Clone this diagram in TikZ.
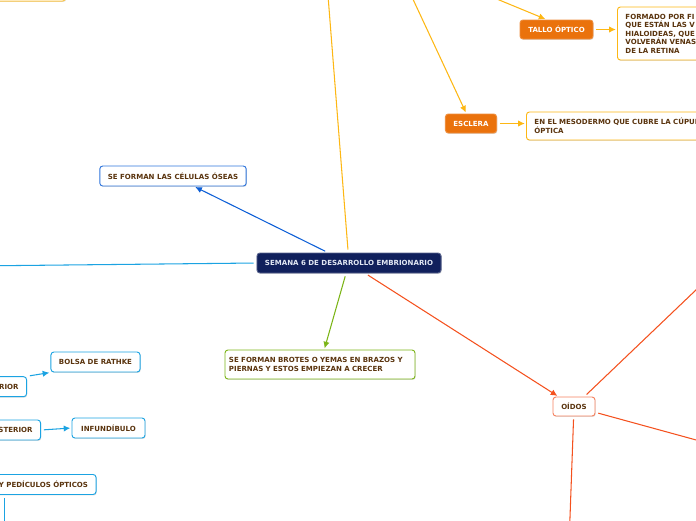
\documentclass[tikz,border=0pt]{standalone}
\usepackage{fontspec}
\setmainfont{DejaVu Sans}
\usepackage{tikz}
\usetikzlibrary{arrows.meta,positioning,shadows,calc}
\definecolor{mmNavy}   {RGB}{ 16, 32, 92}
\definecolor{mmNavyT}  {RGB}{226,232,244}
\definecolor{mmBrown}  {RGB}{ 90, 52, 14}
\definecolor{mmYellow} {RGB}{253,183, 20}
\definecolor{mmOrange} {RGB}{234,114, 12}
\definecolor{mmBlue}   {RGB}{ 12, 94,214}
\definecolor{mmBlueL}  {RGB}{ 27,163,226}
\definecolor{mmGreen}  {RGB}{124,181, 24}
\definecolor{mmRed}    {RGB}{244, 81, 30}
\definecolor{mmRedL}   {RGB}{246,130, 96}

\begin{document}
\begin{tikzpicture}[x=0.03cm,y=-0.03cm,
  every node/.style={font=\fontsize{6}{7.3}\selectfont\bfseries,text=mmBrown},
  >={Latex[length=2mm,width=1.9mm]},
  box/.style ={draw,fill=white,line width=0.8pt,rounded corners=2.5pt,
               minimum height=0.6cm,inner xsep=0.24cm,
               drop shadow={shadow xshift=0.6pt,shadow yshift=-0.8pt,fill=black!25}},
  hub/.style ={box,draw=mmNavy!70,fill=mmNavy,text=mmNavyT,minimum width=5.52cm},
  part/.style={box,draw=mmOrange!80!white,fill=mmOrange,text=white,minimum height=0.57cm},
  note/.style={box,draw=mmYellow,text width=6cm,align=left,anchor=west},
  blu/.style ={box,draw=mmBlue!85!white},
  sky/.style ={box,draw=mmBlueL},
  cut/.style ={box,draw=mmBlueL,text width=4cm,align=right,anchor=east},
  grn/.style ={box,draw=mmGreen,text width=5.46cm,inner xsep=0.12cm,align=left,minimum height=0.87cm},
  ear/.style ={box,draw=mmRedL,minimum width=1.26cm,minimum height=0.57cm},
  ln/.style  ={line width=0.9pt,shorten >=1pt,shorten <=2.5pt}
]
\useasboundingbox (0,0) rectangle (696,520);
\clip (0,0) rectangle (696,520);

\node[box,draw=mmYellow!80!white,anchor=south east,minimum width=4cm,minimum height=0.8cm] (topL) at (66,1.5) {};
\node[hub]  (C)  at (349,263) {SEMANA 6 DE DESARROLLO EMBRIONARIO};
\node[part,minimum width=2.19cm] (TO) at (556.5,29.5) {TALLO ÓPTICO};
\node[note,minimum height=1.59cm] (TOd) at (617,33.5)
  {FORMADO POR FI\\QUE ESTÁN LAS V\\HIALOIDEAS, QUE\\VOLVERÁN VENAS\\DE LA RETINA};
\node[part,minimum width=1.5cm] (ES) at (471,123.5) {ESCLERA};
\node[note,text width=8cm,minimum height=0.84cm] (ESd) at (526,126)
  {EN EL MESODERMO QUE CUBRE LA CÚPUL\\ÓPTICA};
\node[blu,minimum width=4.32cm] (CO) at (173,176) {SE FORMAN LAS CÉLULAS ÓSEAS};
\node[grn]  (BR) at (320,364.5) {SE FORMAN BROTES O YEMAS EN BRAZOS Y\\PIERNAS Y ESTOS EMPIEZAN A CRECER};
\node[ear]  (OI) at (574,406.5) {OÍDOS};
\node[cut]  (HA) at (27,386.7) {RIOR};
\node[sky,minimum width=2.67cm] (RA) at (95.5,362) {BOLSA DE RATHKE};
\node[cut]  (HP) at (41,430) {STERIOR};
\node[sky,minimum width=2.19cm] (IN) at (108.5,428) {INFUNDÍBULO};
\node[cut]  (PO) at (96.5,484.5) {Y PEDÍCULOS ÓPTICOS};

\coordinate (upA)    at (326,-30);
\coordinate (upB)    at (404,-20);
\coordinate (upC)    at (475,-10);
\coordinate (leftA)  at (-30,266);
\coordinate (rightA) at (720,267);
\coordinate (rightB) at (740,452);
\coordinate (downA)  at (569,545);
\coordinate (downB)  at (4.5,545);

\draw[->,ln,mmYellow] (C) -- (upA);
\draw[->,ln,mmYellow] (upB) -- (ES);
\draw[->,ln,mmYellow] (upC) -- (TO.135);
\draw[->,ln,mmYellow] (TO.east) -- (TO.east -| TOd.west);
\draw[->,ln,mmYellow] (ES.east) -- (ES.east -| ESd.west);
\draw[->,ln,mmBlue]   (C) -- (CO);
\draw[->,ln,mmBlueL]  (C.west) -- (leftA);
\draw[->,ln,mmGreen]  (C) -- (BR);
\draw[->,ln,mmRed]    (C) -- (OI);
\draw[->,ln,mmRed]    (OI) -- (rightA);
\draw[->,ln,mmRed]    (OI) -- (rightB);
\draw[->,ln,mmRed]    (OI) -- (downA);
\draw[->,ln,mmBlueL]  (HA.north east) -- (RA.south west);
\draw[->,ln,mmBlueL]  (HP.east) -- (IN.west);
\draw[->,ln,mmBlueL]  (PO.south west -| downB) -- (downB);
\end{tikzpicture}
\end{document}
